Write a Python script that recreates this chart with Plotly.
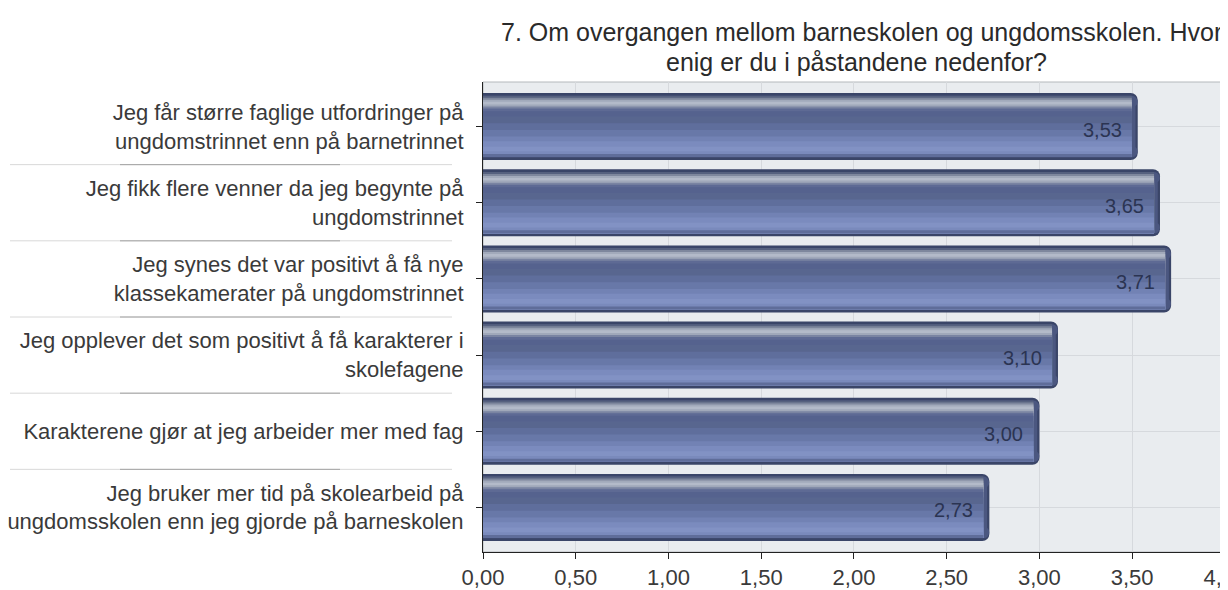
import plotly.graph_objects as go

# Données
categories = [
    "Jeg får større faglige utfordringer på<br>ungdomstrinnet enn på barnetrinnet",
    "Jeg fikk flere venner da jeg begynte på<br>ungdomstrinnet",
    "Jeg synes det var positivt å få nye<br>klassekamerater på ungdomstrinnet",
    "Jeg opplever det som positivt å få karakterer i<br>skolefagene",
    "Karakterene gjør at jeg arbeider mer med fag",
    "Jeg bruker mer tid på skolearbeid på<br>ungdomsskolen enn jeg gjorde på barneskolen",
]
values = [3.53, 3.65, 3.71, 3.10, 3.00, 2.73]
x_ticks = [0, 0.5, 1.0, 1.5, 2.0, 2.5, 3.0, 3.5, 4.0]
title_lines = ["7. Om overgangen mellom barneskolen og ungdomsskolen. Hvor",
               "enig er du i påstandene nedenfor?"]

FONT = "Liberation Sans, Arial, sans-serif"
BAR_W = 0.88
pos = list(range(len(categories)))

# dégradé vertical de la barre (fraction depuis le haut, couleur)
stops = [
    (0.04, "#56617f"), (0.07, "#7e879d"), (0.10, "#a2aabb"), (0.13, "#b3bac9"),
    (0.17, "#a0a8ba"), (0.20, "#7a84a2"), (0.23, "#5e6a94"), (0.27, "#55628e"),
    (0.35, "#58668f"), (0.45, "#5f6e9c"), (0.55, "#6878a8"), (0.65, "#7282b4"),
    (0.72, "#7b8bbe"), (0.80, "#8292c4"), (0.87, "#7a8abc"), (0.91, "#5f6d9a"),
]
EDGE = "#3a4568"

# la page HTML ajoute une marge de 8 px autour du graphique
L, R, T, B = 475, 11, 74, 46
W, H = 1228, 590
plot_w = W - L - R

fig = go.Figure()

def add_layer(top, bot, color, shrink, rad):
    fig.add_trace(go.Bar(
        y=pos,
        x=[v - shrink for v in values],
        orientation='h',
        width=BAR_W * (bot - top),
        offset=-BAR_W / 2 + BAR_W * top,
        marker=dict(color=color, line=dict(width=0), cornerradius=rad),
        hoverinfo='skip',
        showlegend=False,
    ))

# contour sombre arrondi + extrémité
add_layer(0.0, 1.0, EDGE, 0.0, 7)
add_layer(0.04, 0.96, "#4b5780", 0.012, 6)
# bandes du dégradé
for top, color in stops:
    add_layer(top, 0.955, color, 0.032, 0)

# Valeurs dans les barres
for i, v in enumerate(values):
    fig.add_annotation(
        x=v, y=i, xref='x', yref='y',
        text=f"{v:.2f}".replace('.', ','),
        xanchor='right', yanchor='middle', xshift=-14, yshift=-3,
        showarrow=False,
        font=dict(family=FONT, size=20, color="#2b3452"),
    )

# Lignes de séparation des libellés (coordonnées page -> paper)
for i in range(len(categories) - 1):
    yb = i + 0.5
    fig.add_shape(type='line', xref='paper', yref='y',
                  x0=(10 - 483) / plot_w, x1=(452 - 483) / plot_w, y0=yb, y1=yb,
                  line=dict(color="#d8d8d8", width=1))
    fig.add_shape(type='line', xref='paper', yref='y',
                  x0=(120 - 483) / plot_w, x1=(340 - 483) / plot_w, y0=yb, y1=yb,
                  line=dict(color="#a4a4a4", width=1))

# Cadre de la zone de tracé
fig.add_shape(type='rect', xref='paper', yref='paper', x0=0, x1=1, y0=0, y1=1,
              line=dict(color="#b4b8bc", width=1), layer='below')

# Titre
fig.add_annotation(x=0.5, y=1, xref='paper', yref='paper', xshift=7, yshift=50,
                   text=title_lines[0], showarrow=False, xanchor='center', yanchor='middle',
                   font=dict(family=FONT, size=25, color="#2a2a2a"))
fig.add_annotation(x=0.5, y=1, xref='paper', yref='paper', xshift=2, yshift=20,
                   text=title_lines[1], showarrow=False, xanchor='center', yanchor='middle',
                   font=dict(family=FONT, size=25, color="#2a2a2a"))

fig.update_layout(
    width=W, height=H,
    margin=dict(l=L, r=R, t=T, b=B),
    barmode='overlay',
    paper_bgcolor='white',
    plot_bgcolor='#e9ecef',
    separators=', ',
    font=dict(family=FONT, size=22, color="#333333"),
    showlegend=False,
    xaxis=dict(
        range=[0, 4.0005],
        tickvals=x_ticks,
        tickformat='.2f',
        automargin=False,
        ticklabeloverflow='allow',
        showgrid=True, gridcolor='#d6d9dd', gridwidth=1,
        zeroline=False,
        showline=True, linecolor='#222222', linewidth=1,
        ticks='outside', ticklen=6, tickcolor='#222222',
        tickfont=dict(family=FONT, size=22, color="#3a3a3a"),
    ),
    yaxis=dict(
        range=[len(categories) - 0.5 + 0.085, -0.585],
        tickvals=pos,
        ticktext=categories,
        automargin=False,
        showgrid=True, gridcolor='#d6d9dd', gridwidth=1,
        zeroline=False,
        showline=True, linecolor='#222222', linewidth=1,
        ticks='outside', ticklen=6, tickcolor='#222222',
        ticklabelstandoff=8,
        tickfont=dict(family=FONT, size=22, color="#3a3a3a"),
    ),
)

fig.write_html("out.html")
